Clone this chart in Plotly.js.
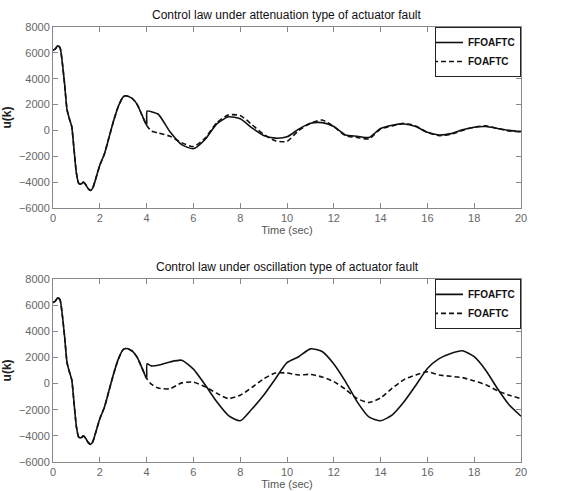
<!DOCTYPE html>
<html>
<head>
<meta charset="utf-8">
<script src="https://cdn.plot.ly/plotly-3.0.1.min.js"></script>
<style>html,body{margin:0;padding:0;background:#fff;}#chart{width:561px;height:491px;}</style>
</head>
<body>
<div id="chart"></div>
<script>
// Shared response before the fault occurs (t <= 4 s)
const tCommon = [0,0.1,0.2,0.3,0.4,0.5,0.6,0.7,0.8,0.9,1.0,1.1,1.2,1.3,1.4,1.5,1.6,1.7,1.8,2.0,2.2,2.4,2.6,2.8,3.0,3.1,3.2,3.4,3.6,3.8,4.0];
const uCommon = [6200,6300,6550,6400,5200,3500,1600,900,300,-1500,-3300,-4100,-4150,-4000,-4200,-4500,-4650,-4450,-3900,-2700,-1800,-500,800,1900,2600,2680,2650,2450,2000,1200,400];

// Time after the fault
const tAfter = [4.02,4.2,4.5,5,5.5,6,6.5,7,7.5,8,8.5,9,9.5,10,10.5,11,11.5,12,12.5,13,13.5,14,14.5,15,15.5,16,16.5,17,17.5,18,18.5,19,19.5,20];

// Attenuation type of actuator fault
const attFFOAFTC = [1500,1450,1250,-100,-1100,-1420,-700,500,1050,900,200,-400,-600,-500,100,550,600,300,-350,-450,-550,150,400,500,300,-150,-350,-250,50,250,300,150,0,-100];
const attFOAFTC  = [350,-50,-200,-450,-950,-1250,-600,600,1200,1150,450,-300,-800,-850,0,550,800,300,-400,-550,-650,100,350,550,350,-150,-400,-300,0,250,350,150,-50,-100];

// Oscillation type of actuator fault
const oscFFOAFTC = [1500,1350,1400,1650,1780,1100,-100,-1400,-2450,-2850,-1950,-900,350,1600,2050,2650,2450,1500,150,-1400,-2550,-2850,-2400,-1400,-150,1150,1900,2300,2500,2050,1000,-400,-1650,-2500];
const oscFOAFTC  = [350,-50,-350,-400,50,100,-250,-750,-1150,-900,-300,350,800,800,650,700,500,150,-450,-1150,-1450,-1100,-350,300,650,900,650,550,450,200,-100,-550,-900,-1150];

const seriesNames = ["FFOAFTC","FOAFTC"];
const titles = ["Control law under attenuation type of actuator fault","Control law under oscillation type of actuator fault"];
const xTicks = [0,2,4,6,8,10,12,14,16,18,20];
const yTicks = [-6000,-4000,-2000,0,2000,4000,6000,8000];

const tFull = tCommon.concat(tAfter);
function mk(vals, name, dash, xa, ya, leg) {
  return {x: tFull, y: uCommon.concat(vals), name: name, type: 'scatter', mode: 'lines',
    xaxis: xa, yaxis: ya, legend: leg, showlegend: true,
    line: {color: '#111', width: 1.6, dash: dash, shape: 'spline', smoothing: 0.6}};
}
const data = [
  mk(attFFOAFTC, seriesNames[0], 'solid', 'x', 'y', 'legend'),
  mk(attFOAFTC, seriesNames[1], '5px,3px', 'x', 'y', 'legend'),
  mk(oscFFOAFTC, seriesNames[0], 'solid', 'x2', 'y2', 'legend2'),
  mk(oscFOAFTC, seriesNames[1], '5px,3px', 'x2', 'y2', 'legend2')
];

const tickFont = {family: 'Arial, Liberation Sans, sans-serif', size: 11, color: '#666'};
function xax(anchor) {
  return {anchor: anchor, domain: [0,1], range: [0,20], tickvals: xTicks, ticks: 'inside', ticklen: 5, tickcolor: '#888',
    showline: true, linecolor: '#888', linewidth: 1, mirror: 'ticks', showgrid: false, zeroline: false,
    tickfont: tickFont,
    title: {text: 'Time (sec)', font: {family: 'Arial, Liberation Sans, sans-serif', size: 11, color: '#555'}, standoff: 3}};
}
function yax(anchor, domain) {
  return {anchor: anchor, domain: domain, range: [-6000,8000], tickvals: yTicks, ticks: 'inside', ticklen: 5, tickcolor: '#888',
    showline: true, linecolor: '#888', linewidth: 1, mirror: 'ticks', showgrid: false, zeroline: false,
    tickfont: tickFont,
    title: {text: '<b>u(k)</b>', font: {family: 'Arial, Liberation Sans, sans-serif', size: 12, color: '#222'}, standoff: 4}};
}
const legFont = {family: 'Arial, Liberation Sans, sans-serif', size: 10, color: '#111', weight: 'bold'};
function leg(ytop) {
  return {x: 1, y: ytop, xanchor: 'right', yanchor: 'top', bgcolor: '#fff', bordercolor: '#222', borderwidth: 1,
    font: legFont, tracegroupgap: 0, itemwidth: 30, indentation: -8};
}
const layout = {
  width: 561, height: 491,
  margin: {l: 53, r: 40, t: 27, b: 29},
  paper_bgcolor: '#fff', plot_bgcolor: '#fff',
  showlegend: true,
  xaxis: xax('y'),
  yaxis: yax('x', [0.584, 1]),
  xaxis2: xax('y2'),
  yaxis2: yax('x2', [0, 0.421]),
  legend: leg(1),
  legend2: leg(0.421),
  annotations: [
    {text: titles[0], xref: 'paper', yref: 'paper', x: 0.5, y: 1, yanchor: 'bottom', yshift: 3, showarrow: false,
     font: {family: 'Arial, Liberation Sans, sans-serif', size: 12, color: '#111'}},
    {text: titles[1], xref: 'paper', yref: 'paper', x: 0.5, y: 0.421, yanchor: 'bottom', yshift: 3, showarrow: false,
     font: {family: 'Arial, Liberation Sans, sans-serif', size: 12, color: '#111'}}
  ]
};
Plotly.newPlot('chart', data, layout, {displayModeBar: false, staticPlot: true});
</script>
</body>
</html>
